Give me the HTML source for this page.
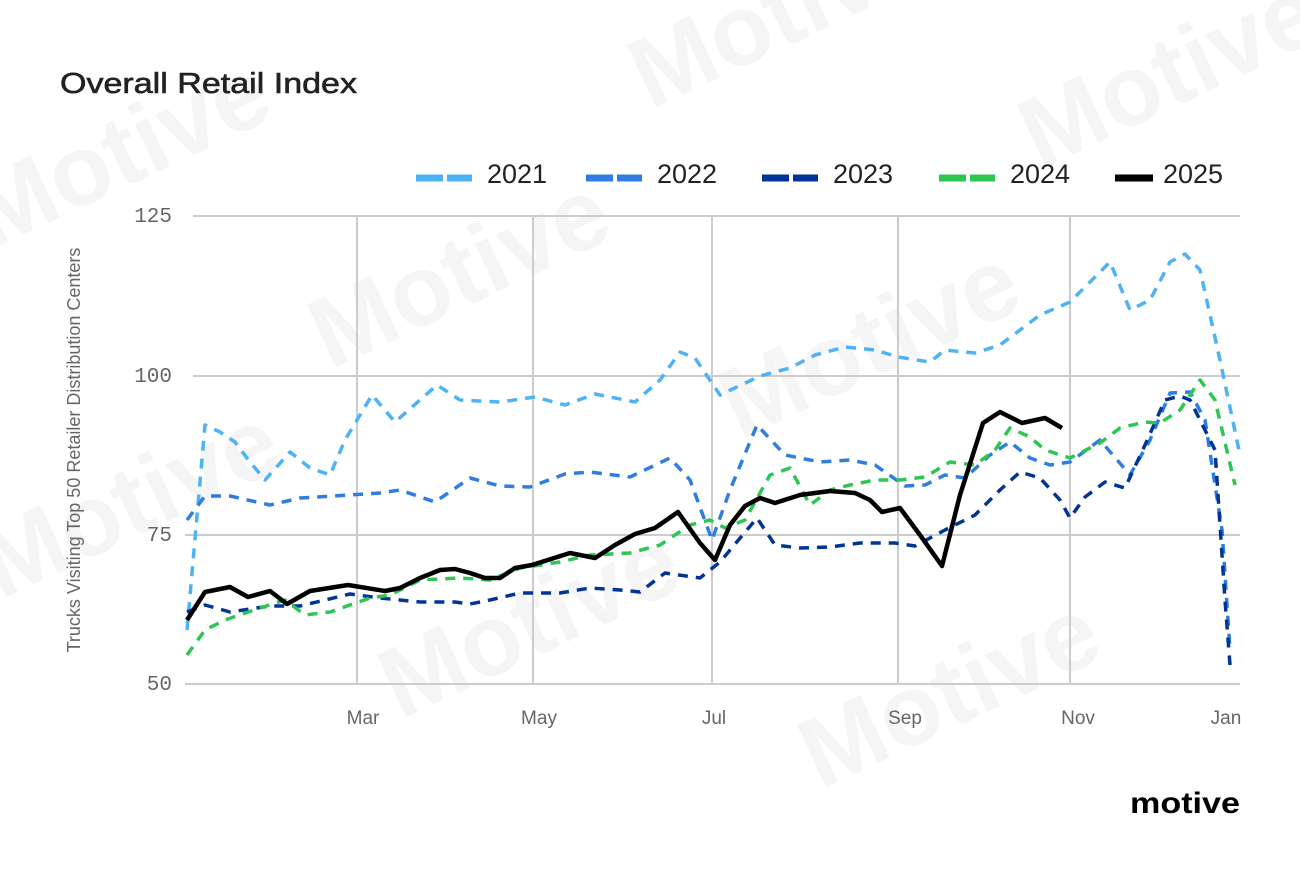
<!DOCTYPE html>
<html><head><meta charset="utf-8"><style>
html,body{margin:0;padding:0;background:#fff;width:1300px;height:876px;overflow:hidden;}
body{position:relative;font-family:"Liberation Sans",sans-serif;}
</style></head><body>
<svg width="1300" height="876" xmlns="http://www.w3.org/2000/svg" style="position:absolute;left:0;top:0;display:block" overflow="hidden">
<g fill="#f5f5f5" font-family="Liberation Sans,sans-serif" font-weight="bold" font-size="100">
<text transform="translate(650,110) rotate(-25)">Motive</text>
<text transform="translate(-10,250) rotate(-25)">Motive</text>
<text transform="translate(330,370) rotate(-25)">Motive</text>
<text transform="translate(740,440) rotate(-25)">Motive</text>
<text transform="translate(1040,170) rotate(-25)">Motive</text>
<text transform="translate(0,600) rotate(-25)">Motive</text>
<text transform="translate(400,720) rotate(-25)">Motive</text>
<text transform="translate(820,790) rotate(-25)">Motive</text>
</g>
<text x="60" y="93" font-size="29" fill="#222" stroke="#222" stroke-width="0.6" textLength="297" lengthAdjust="spacingAndGlyphs">Overall Retail Index</text>
<g stroke-width="7">
<line x1="416" y1="178" x2="443" y2="178" stroke="#4db3f5"/><line x1="447" y1="178" x2="472" y2="178" stroke="#4db3f5"/>
<line x1="586" y1="178" x2="613" y2="178" stroke="#2f7de1"/><line x1="617" y1="178" x2="642" y2="178" stroke="#2f7de1"/>
<line x1="762" y1="178" x2="789" y2="178" stroke="#003595"/><line x1="793" y1="178" x2="818" y2="178" stroke="#003595"/>
<line x1="939" y1="178" x2="966" y2="178" stroke="#2dc653"/><line x1="970" y1="178" x2="995" y2="178" stroke="#2dc653"/>
<line x1="1115" y1="178" x2="1153" y2="178" stroke="#000"/>
</g>
<g font-size="27" fill="#222">
<text x="487" y="183">2021</text><text x="657" y="183">2022</text><text x="833" y="183">2023</text><text x="1010" y="183">2024</text><text x="1163" y="183">2025</text>
</g>
<g stroke="#cccccc" stroke-width="2">
<line x1="193" y1="216" x2="1240" y2="216"/><line x1="193" y1="376" x2="1240" y2="376"/>
<line x1="185" y1="535" x2="1240" y2="535"/><line x1="185" y1="684" x2="1240" y2="684"/>
<line x1="357" y1="216" x2="357" y2="684"/><line x1="533" y1="216" x2="533" y2="684"/>
<line x1="712" y1="216" x2="712" y2="684"/><line x1="898" y1="216" x2="898" y2="684"/>
<line x1="1070" y1="216" x2="1070" y2="684"/>
</g>
<g font-family="Liberation Mono,monospace" font-size="21" fill="#666" text-anchor="end">
<text x="172" y="222">125</text><text x="172" y="382">100</text><text x="172" y="541">75</text><text x="172" y="690">50</text>
</g>
<g font-size="19" fill="#666" text-anchor="middle">
<text x="363" y="724">Mar</text><text x="539" y="724">May</text><text x="714" y="724">Jul</text><text x="905" y="724">Sep</text><text x="1078" y="724">Nov</text><text x="1226" y="724">Jan</text>
</g>
<text transform="translate(80,450) rotate(-90)" font-size="18" fill="#666" text-anchor="middle">Trucks Visiting Top 50 Retailer Distribution Centers</text>
<g fill="none" stroke-width="3.5" stroke-dasharray="10,8" stroke-linejoin="round">
<polyline stroke="#4db3f5" points="187,630 205,425 220,432 235,442 250,462 265,480 290,452 310,468 330,475 345,440 372,395 395,422 420,400 437,385 460,400 500,402 535,397 565,405 595,394 635,402 660,380 680,352 695,358 720,395 760,376 790,368 815,355 845,347 875,350 898,357 930,362 945,350 975,353 1000,345 1040,315 1070,302 1110,262 1130,310 1150,300 1170,262 1185,254 1200,270 1220,360 1240,455"/>
<polyline stroke="#2f7de1" points="187,520 205,496 230,496 270,505 300,498 350,495 380,493 400,490 435,502 470,478 500,486 530,487 565,474 590,472 630,477 670,458 690,480 712,540 730,490 757,425 785,455 820,462 850,460 875,465 905,486 925,485 945,475 965,478 990,455 1010,442 1030,458 1050,465 1070,462 1100,440 1130,475 1150,440 1170,393 1190,392 1205,420 1222,530 1230,650"/>
<polyline stroke="#003595" points="187,612 205,605 230,612 270,606 300,606 350,594 380,598 420,602 455,602 470,604 490,600 520,593 560,593 590,588 620,590 640,592 665,573 700,578 720,562 757,518 775,545 800,548 830,547 860,543 895,543 915,546 945,530 975,515 1000,490 1020,472 1040,478 1060,500 1070,518 1085,497 1105,482 1125,488 1145,445 1165,400 1180,396 1190,400 1215,450 1225,600 1230,665"/>
<polyline stroke="#2dc653" points="187,655 205,630 225,620 260,608 285,600 305,615 330,612 370,598 390,595 420,580 460,578 490,580 520,568 560,562 590,555 630,553 660,545 690,525 710,520 725,528 745,520 770,475 790,468 810,505 830,490 850,485 875,480 900,480 925,477 950,462 975,465 995,450 1010,428 1030,437 1045,450 1070,458 1100,443 1120,428 1145,422 1160,423 1180,410 1200,380 1215,400 1235,485"/>
</g>
<polyline fill="none" stroke="#000" stroke-width="4.5" stroke-linejoin="round" points="187,620 205,592 230,587 248,597 270,591 287,604 310,591 348,585 385,591 400,588 420,578 440,570 455,569 470,573 485,578 500,578 515,568 532,565 570,553 595,558 615,545 635,534 655,528 678,512 700,543 715,560 730,525 745,506 760,498 775,503 800,495 830,491 855,493 870,500 882,512 900,508 920,535 942,566 960,495 983,423 1000,412 1022,423 1045,418 1062,428"/>
<text x="1130" y="813" font-size="30" font-weight="bold" fill="#000" textLength="110" lengthAdjust="spacingAndGlyphs">motive</text>
</svg>
</body></html>
